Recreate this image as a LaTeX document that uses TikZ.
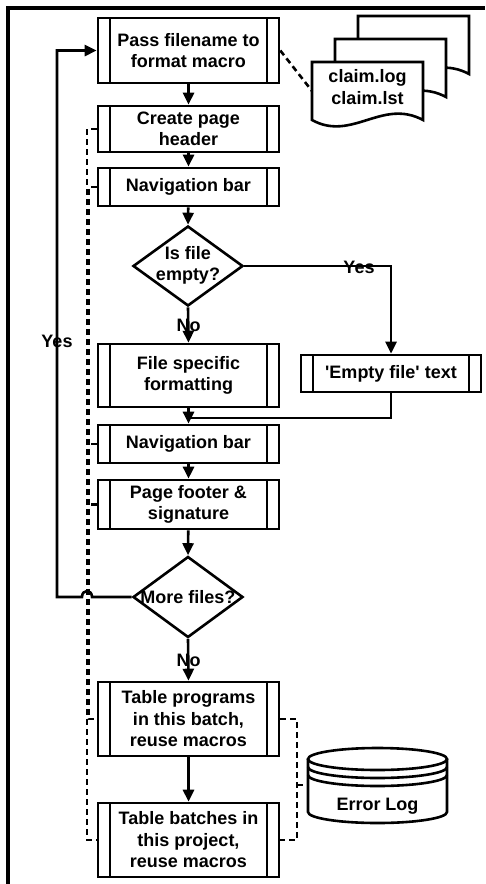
\documentclass[tikz,border=0pt]{standalone}
\usepackage{fontspec}
\setmainfont{Liberation Sans}
\usetikzlibrary{arrows.meta,shapes.geometric}
\begin{document}
\begin{tikzpicture}[x=1pt,y=-1pt, line width=2.6pt,
  every node/.style={font=\fontsize{18}{21.5}\selectfont\bfseries, align=center},
  sub/.style={draw, minimum width=181pt, inner sep=0pt, path picture={
     \draw[line width=2.6pt] ([xshift=12pt]path picture bounding box.north west) -- ([xshift=12pt]path picture bounding box.south west);
     \draw[line width=2.6pt] ([xshift=-12pt]path picture bounding box.north east) -- ([xshift=-12pt]path picture bounding box.south east);}},
  dec/.style={draw, diamond, minimum width=110pt, minimum height=80pt, inner sep=0pt},
  arr/.style={-{Triangle[length=12pt,width=11pt]}},
  dsh/.style={dash pattern=on 6pt off 4pt},
]
\useasboundingbox (0,0) rectangle (485,884);
% frame
\draw[line width=4pt] (8,884) -- (8,8) -- (485,8);

% documents
\foreach \X/\Y in {358/16,335/39,312/62}{
  \draw[fill=white] (\X,\Y+58) -- (\X,\Y) -- (\X+111,\Y) -- (\X+111,\Y+58)
    .. controls (\X+70,\Y+36) and (\X+40,\Y+80) .. (\X,\Y+58) -- cycle;
}
\node (doc) at (367.5,87) {claim.log\\claim.lst};
\coordinate (docl) at (312,91);

% process boxes
\node[sub, minimum height=65pt] (pass) at (188.5,50.5) {Pass filename to\\format macro};
\node[sub, minimum height=46pt] (hdr) at (188.5,129) {Create page\\header};
\node[sub, minimum height=38pt] (nav1) at (188.5,187) {Navigation bar};
\node[dec] (d1) at (188,266) {};
\node (d1t) at (188,265.5) {Is file\\empty?};
\node[sub, minimum height=63pt] (fsf) at (188.5,375.5) {File specific\\formatting};
\node[sub, minimum width=180pt, minimum height=37pt] (empty) at (391,373.5) {\textquotesingle Empty file\textquotesingle{} text};
\node[sub, minimum height=38pt] (nav2) at (188.5,444) {Navigation bar};
\node[sub, minimum height=49pt] (foot) at (188.5,504.5) {Page footer \&\\signature};
\node[dec, minimum height=81pt] (d2) at (188,597) {};
\node (d2t) at (188,597) {More files?};
\node[sub, minimum height=74pt] (tprog) at (188.5,719) {Table programs\\in this batch,\\reuse macros};
\node[sub, minimum height=74pt] (tbat) at (188.5,840) {Table batches in\\this project,\\reuse macros};

% error log cylinder
\draw[fill=white] (308,759) -- (308,812) arc[start angle=180,end angle=0,x radius=69.5,y radius=11] -- (447,759);
\draw (377.5,759) ellipse [x radius=69.5, y radius=11];
\draw (308,767) arc[start angle=180,end angle=0,x radius=69.5,y radius=11];
\draw (308,775) arc[start angle=180,end angle=0,x radius=69.5,y radius=11];
\node (err) at (377.5,806) {Error Log};
\coordinate (errl) at (308,785);

% dashed links
\draw[dsh] (pass.east) -- (docl);
\draw[dsh] (hdr.west) -- (87,129) -- (87,840) -- (tbat.west);
\draw[dsh] (nav1.west) -- (88.5,187) -- (88.5,719) -- (tprog.west);
\draw[dsh] (nav2.west) -- (88.5,444);
\draw[dsh] (foot.west) -- (88.5,504.5);
\draw[dsh] (tprog.east) -- (297,719) -- (297,840) -- (tbat.east);
\draw[dsh] (297,785) -- (errl);

% flow
\draw[arr] (pass) -- (hdr);
\draw[arr] (hdr) -- (nav1);
\draw[arr] (nav1) -- (d1.north);
\draw[arr] (d1.south) -- (fsf.north);
\draw[arr] (d1.east) -| (empty.north);
\draw[arr] (fsf) -- (nav2);
\coordinate (mg) at (188.5,418);
\draw (empty.south) |- (mg);
\draw[arr] (nav2) -- (foot);
\draw[arr] (foot) -- (d2.north);
\draw[arr] (d2.south) -- (tprog.north);
\draw[arr] (tprog) -- (tbat);
\draw[arr] (d2.west) -- (92,597) .. controls (92,589) and (82,589) .. (82,597) -- (57,597) |- (pass.west);

% labels
\node (ly1) at (359,267) {Yes};
\node (ln1) at (188.5,325) {No};
\node (ly2) at (57,341) {Yes};
\node (ln2) at (188.5,660) {No};
\end{tikzpicture}
\end{document}
